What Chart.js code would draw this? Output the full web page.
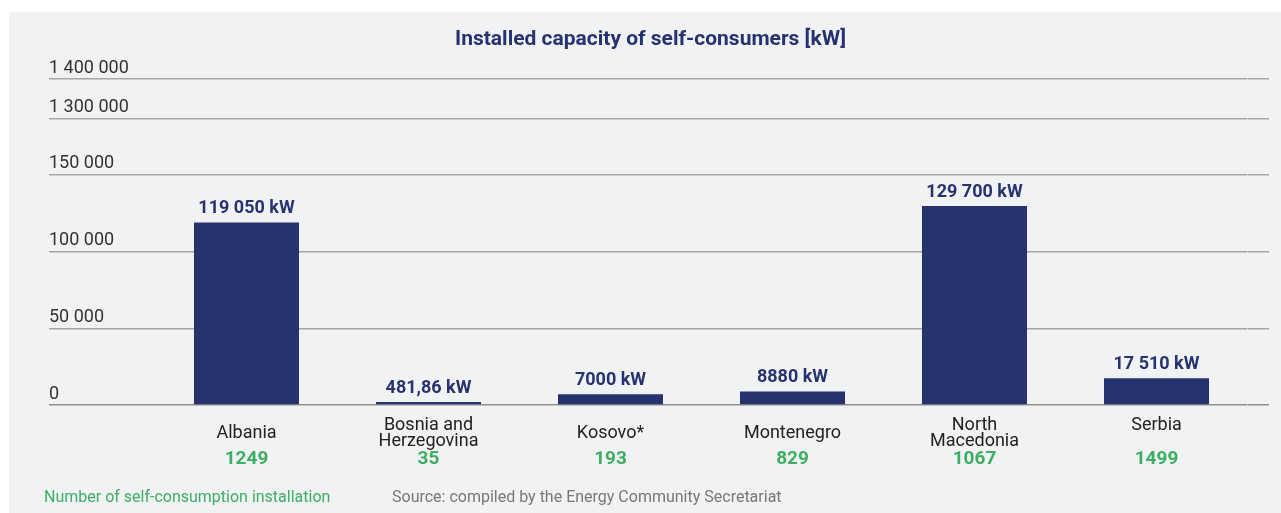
<!DOCTYPE html>
<html>
<head>
<meta charset="utf-8">
<script src="https://cdn.jsdelivr.net/npm/chart.js@4.4.1/dist/chart.umd.min.js"></script>
<style>
  html, body { margin: 0; padding: 0; background: #fff; }
  body { width: 1281px; height: 513px; position: relative; overflow: hidden; font-family: Roboto, sans-serif; }
  .panel { position: absolute; left: 9px; top: 12px; right: 0; bottom: 0; background: #f1f2f4; }
  .wrap { position: absolute; left: 0; top: 0; width: 1281px; height: 513px; }
  .note { position: absolute; top: 487px; font-size: 16px; line-height: 20px; white-space: nowrap; }
  .note.count { left: 44px; color: #3dae62; }
  .note.source { left: 392px; color: #777; }
</style>
</head>
<body>
<div class="panel"></div>
<div class="wrap"><canvas id="chart"></canvas></div>
<div class="note count">Number of self-consumption installation</div>
<div class="note source">Source: compiled by the Energy Community Secretariat</div>
<script>
const countries = ['Albania', ['Bosnia and', 'Herzegovina'], 'Kosovo*', 'Montenegro', ['North', 'Macedonia'], ['Serbia', '']];
const capacityKw = [119050, 481.86, 7000, 8880, 129700, 17510];
const installations = [1249, 35, 193, 829, 1067, 1499];
const yTicks = [0, 50000, 100000, 150000, 1300000, 1400000];

const NAVY = '#26336f';
const GREEN = '#3dae62';
const GRID = '#a6a6a6';

// broken axis: linear up to 150 000, then a jump to 1 300 000
const BREAK_LOW = 150000;
const BREAK_HIGH = 1300000;
const BREAK_GAP = 36700;
const UPPER_RATIO = 0.257;

function toAxis(v) {
  if (v <= BREAK_LOW) return v;
  return BREAK_LOW + BREAK_GAP + (v - BREAK_HIGH) * UPPER_RATIO;
}

function spaced(n) {
  return Math.round(n).toString().replace(/\B(?=(\d{3})+(?!\d))/g, ' ');
}

function kw(v) {
  if (v >= 10000) return spaced(v) + ' kW';
  return String(v).replace('.', ',') + ' kW';
}

function setTicks(scale) {
  scale.ticks = yTicks.map(v => ({ value: toAxis(v) }));
}

// capacity above each bar, installation count under the country name
const barLabels = {
  id: 'barLabels',
  afterDatasetsDraw(chart) {
    const { ctx, chartArea } = chart;
    const meta = chart.getDatasetMeta(0);
    ctx.save();
    ctx.textAlign = 'center';
    meta.data.forEach((bar, i) => {
      ctx.font = 'bold 18px Roboto';
      ctx.fillStyle = NAVY;
      ctx.textBaseline = 'alphabetic';
      ctx.fillText(kw(capacityKw[i]), bar.x, bar.y - 9);

      ctx.font = 'bold 19px Roboto';
      ctx.fillStyle = GREEN;
      ctx.textBaseline = 'middle';
      ctx.fillText(String(installations[i]), bar.x, chartArea.bottom + 54);
    });
    ctx.restore();
  },
};

new Chart(document.getElementById('chart'), {
  type: 'bar',
  data: {
    labels: countries,
    datasets: [{
      data: capacityKw,
      backgroundColor: NAVY,
      borderWidth: 0,
      minBarLength: 3,
      barPercentage: 0.577,
      categoryPercentage: 1,
    }],
  },
  options: {
    responsive: true,
    maintainAspectRatio: false,
    animation: false,
    layout: { padding: { left: 49, right: 29, top: 0, bottom: 43 } },
    plugins: {
      legend: { display: false },
      tooltip: { enabled: false },
      title: {
        display: true,
        text: 'Installed capacity of self-consumers [kW]',
        color: NAVY,
        font: { family: 'Roboto', size: 21, weight: 'bold' },
        padding: { top: 27, bottom: 27 },
      },
    },
    scales: {
      x: {
        type: 'category',
        position: 'bottom',
        afterFit(scale) { scale.height = 65; },
        grid: { display: false, drawTicks: false },
        border: { display: false },
        ticks: {
          color: '#222',
          font: { family: 'Roboto', size: 18, lineHeight: 0.9 },
          padding: 20,
          crossAlign: 'center',
          maxRotation: 0,
          autoSkip: false,
        },
      },
      y: {
        position: 'left',
        min: 0,
        max: toAxis(yTicks[yTicks.length - 1]),
        afterBuildTicks: setTicks,
        afterFit(scale) { scale.width = 106.5; },
        border: { display: false },
        grid: {
          color: ctx => (ctx.tick && ctx.tick.value === 0 ? '#8f8f8f' : GRID),
          lineWidth: 1.5,
          drawTicks: true,
          tickLength: 106.5,
        },
        ticks: {
          color: '#333',
          font: { family: 'Roboto', size: 18 },
          crossAlign: 'far',
          labelOffset: -11,
          padding: 0,
          callback: (val, i) => spaced(yTicks[i]),
        },
      },
      yRight: {
        position: 'right',
        min: 0,
        max: toAxis(yTicks[yTicks.length - 1]),
        afterBuildTicks: setTicks,
        afterFit(scale) { scale.width = 4.5; },
        border: { display: false },
        grid: {
          color: ctx => (ctx.tick && ctx.tick.value === 0 ? '#8f8f8f' : GRID),
          lineWidth: 1.5,
          drawOnChartArea: false,
          drawTicks: true,
          tickLength: 21.5,
        },
        ticks: { display: false },
      },
    },
  },
  plugins: [barLabels],
});
</script>
</body>
</html>
